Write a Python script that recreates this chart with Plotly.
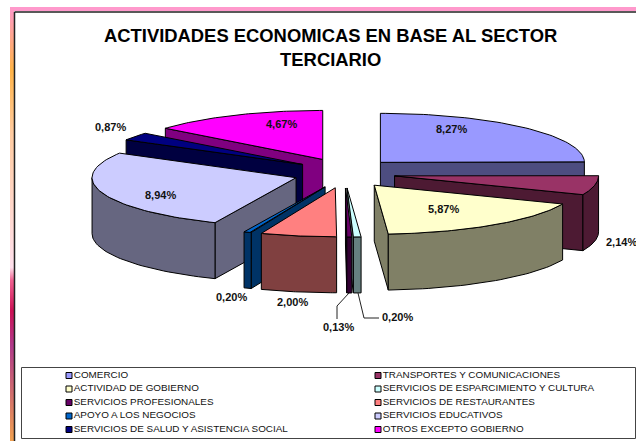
import numpy as np
import plotly.graph_objects as go

categories = ["COMERCIO", "TRANSPORTES Y COMUNICACIONES", "ACTIVIDAD DE GOBIERNO",
              "SERVICIOS DE ESPARCIMIENTO Y CULTURA", "SERVICIOS PROFESIONALES",
              "SERVICIOS DE RESTAURANTES", "APOYO A LOS NEGOCIOS", "SERVICIOS EDUCATIVOS",
              "SERVICIOS DE SALUD Y ASISTENCIA SOCIAL", "OTROS EXCEPTO GOBIERNO"]
values = [8.27, 2.14, 5.87, 0.20, 0.13, 2.00, 0.20, 8.94, 0.87, 4.67]
top_colors = ["#9999FF", "#993366", "#FFFFCC", "#CCFFFF", "#660066",
              "#FF8080", "#0066CC", "#CCCCFF", "#000080", "#FF00FF"]
side_colors = ["#4D4D80", "#4D1A33", "#808066", "#668080", "#330033",
               "#804040", "#003366", "#666680", "#000040", "#800080"]
title_text = "<b>ACTIVIDADES ECONOMICAS EN BASE AL SECTOR<br>TERCIARIO</b>"
label_positions = [(451, 129), (621, 242), (443, 209), (397, 317), (338, 327),
                   (292, 302), (231, 297), (160, 195), (110, 127), (281, 124)]
legend_columns_x = [69, 378]
legend_rows_y = [375.5, 389, 402.5, 416, 429.5]

CX, CY, RX, RY, DEPTH, EX, EY = 344.5, 173, 204, 49, 56, 51, 15
W, H = 636, 441
FONT = "Liberation Sans, Arial, sans-serif"

fig = go.Figure()


def face(xs, ys, color):
    fig.add_trace(go.Scatter(x=list(xs) + [xs[0]], y=list(ys) + [ys[0]], mode="lines",
                             fill="toself", fillcolor=color,
                             line=dict(color="#000000", width=1),
                             hoverinfo="skip", showlegend=False))


total = sum(values)
edges = np.cumsum([0] + values) / total * 2 * np.pi
slices = []
for i in range(len(values)):
    a, b = edges[i], edges[i + 1]
    mid = (a + b) / 2
    slices.append((-np.cos(mid), i, a, b, mid))

for _, i, a, b, mid in sorted(slices):
    ax = CX + EX * np.sin(mid)
    ay = CY - EY * np.cos(mid)
    px = lambda t: ax + RX * np.sin(t)
    py = lambda t: ay - RY * np.cos(t)
    if np.sin(a) < 0:
        face([ax, px(a), px(a), ax], [ay, py(a), py(a) + DEPTH, ay + DEPTH], side_colors[i])
    if np.sin(b) > 0:
        face([ax, px(b), px(b), ax], [ay, py(b), py(b) + DEPTH, ay + DEPTH], side_colors[i])
    lo, hi = max(a, np.pi / 2), min(b, 3 * np.pi / 2)
    if hi > lo:
        t = np.linspace(lo, hi, 40)
        face(list(px(t)) + list(px(t[::-1])),
             list(py(t)) + list(py(t[::-1]) + DEPTH), side_colors[i])
    t = np.linspace(a, b, 60)
    face([ax] + list(px(t)), [ay] + list(py(t)), top_colors[i])

# legend entries: two columns, row by row
for k, (name, c) in enumerate(zip(categories, top_colors)):
    fig.add_trace(go.Scatter(x=[legend_columns_x[k % 2]], y=[legend_rows_y[k // 2]],
                             mode="markers+text", name=name, text=[name],
                             textposition="middle right",
                             textfont=dict(family=FONT, size=9.9, color="#111111"),
                             marker=dict(symbol="square", size=6, color=c,
                                         line=dict(color="#000000", width=1)),
                             showlegend=False, hoverinfo="skip"))

# decorative gradient strip
fig.add_trace(go.Scatter(x=[10, 14, 14, 10, 10], y=[7, 7, H, H, 7], mode="lines", fill="toself",
                         line=dict(width=0), hoverinfo="skip", showlegend=False,
                         fillgradient=dict(type="vertical", start=7, stop=H,
                                           colorscale=[[0, "#FF99CC"], [0.145, "#FFB347"],
                                                       [0.29, "#FFCBA0"], [0.6, "#FFE0EC"],
                                                       [0.63, "#F06090"], [0.7, "#CC1155"],
                                                       [0.78, "#B03A8A"], [1, "#F0A050"]])))

shapes = [
    dict(type="rect", x0=10, x1=W, y0=7, y1=11, fillcolor="#FF99CC", line=dict(width=0), layer="below"),
    dict(type="line", x0=14.5, x1=W, y0=12, y1=12, line=dict(color="#222222", width=1.5)),
    dict(type="line", x0=14.5, x1=14.5, y0=12, y1=H, line=dict(color="#222222", width=1.5)),
    dict(type="rect", x0=21.5, x1=635.5, y0=367.5, y1=438.5, line=dict(color="#444444", width=1), layer="below"),
    dict(type="path", path="M349,293 L337,306 L337,319", line=dict(color="#222222", width=1)),
    dict(type="path", path="M358,293 L364,318 L379,318", line=dict(color="#222222", width=1)),
]

annotations = [dict(x=330, y=47, text=title_text, showarrow=False,
                    font=dict(family=FONT, size=18.4, color="#000000"), align="center",
                    xanchor="center", yanchor="middle")]
for v, (x, y) in zip(values, label_positions):
    annotations.append(dict(x=x, y=y, text="<b>" + f"{v:.2f}".replace(".", ",") + "%</b>",
                            showarrow=False, xanchor="center", yanchor="middle",
                            font=dict(family=FONT, size=11, color="#111111")))

fig.update_layout(
    width=W, height=H, autosize=False, margin=dict(l=0, r=0, t=0, b=0, autoexpand=False),
    paper_bgcolor="#FFFFFF", plot_bgcolor="#FFFFFF", showlegend=False,
    xaxis=dict(range=[0, W], visible=False, fixedrange=True),
    yaxis=dict(range=[H, 0], visible=False, fixedrange=True),
    shapes=shapes, annotations=annotations,
)

fig.write_html("out.html", config=dict(displayModeBar=False),
               post_script="document.body.style.margin='0';document.body.style.overflow='hidden';")
